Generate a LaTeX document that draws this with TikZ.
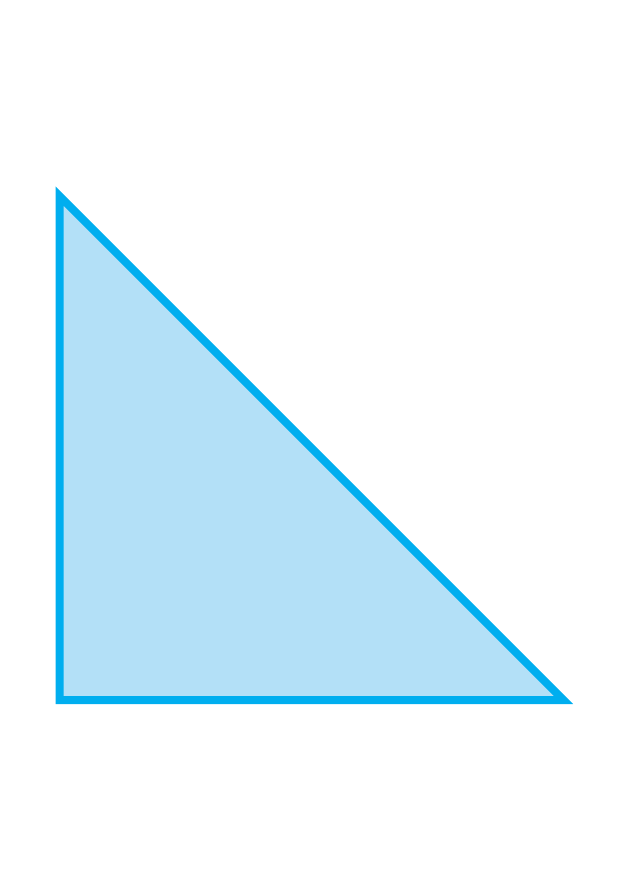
\documentclass[tikz,border=0pt]{standalone}
\usepackage{pgf,tikz}
\definecolor{qqaeef}{rgb}{0.,0.682,0.937}
\definecolor{bbe0f7}{rgb}{0.702,0.878,0.969}
\begin{document}
\begin{tikzpicture}[line cap=butt,line join=miter,x=1pt,y=-1pt]
\useasboundingbox (0.,0.) rectangle (630.,891.);
\draw [line width=8pt,color=qqaeef,fill=bbe0f7] (59.5,196.)-- (59.5,700.)-- (563.5,700.)-- cycle;
\end{tikzpicture}
\end{document}
